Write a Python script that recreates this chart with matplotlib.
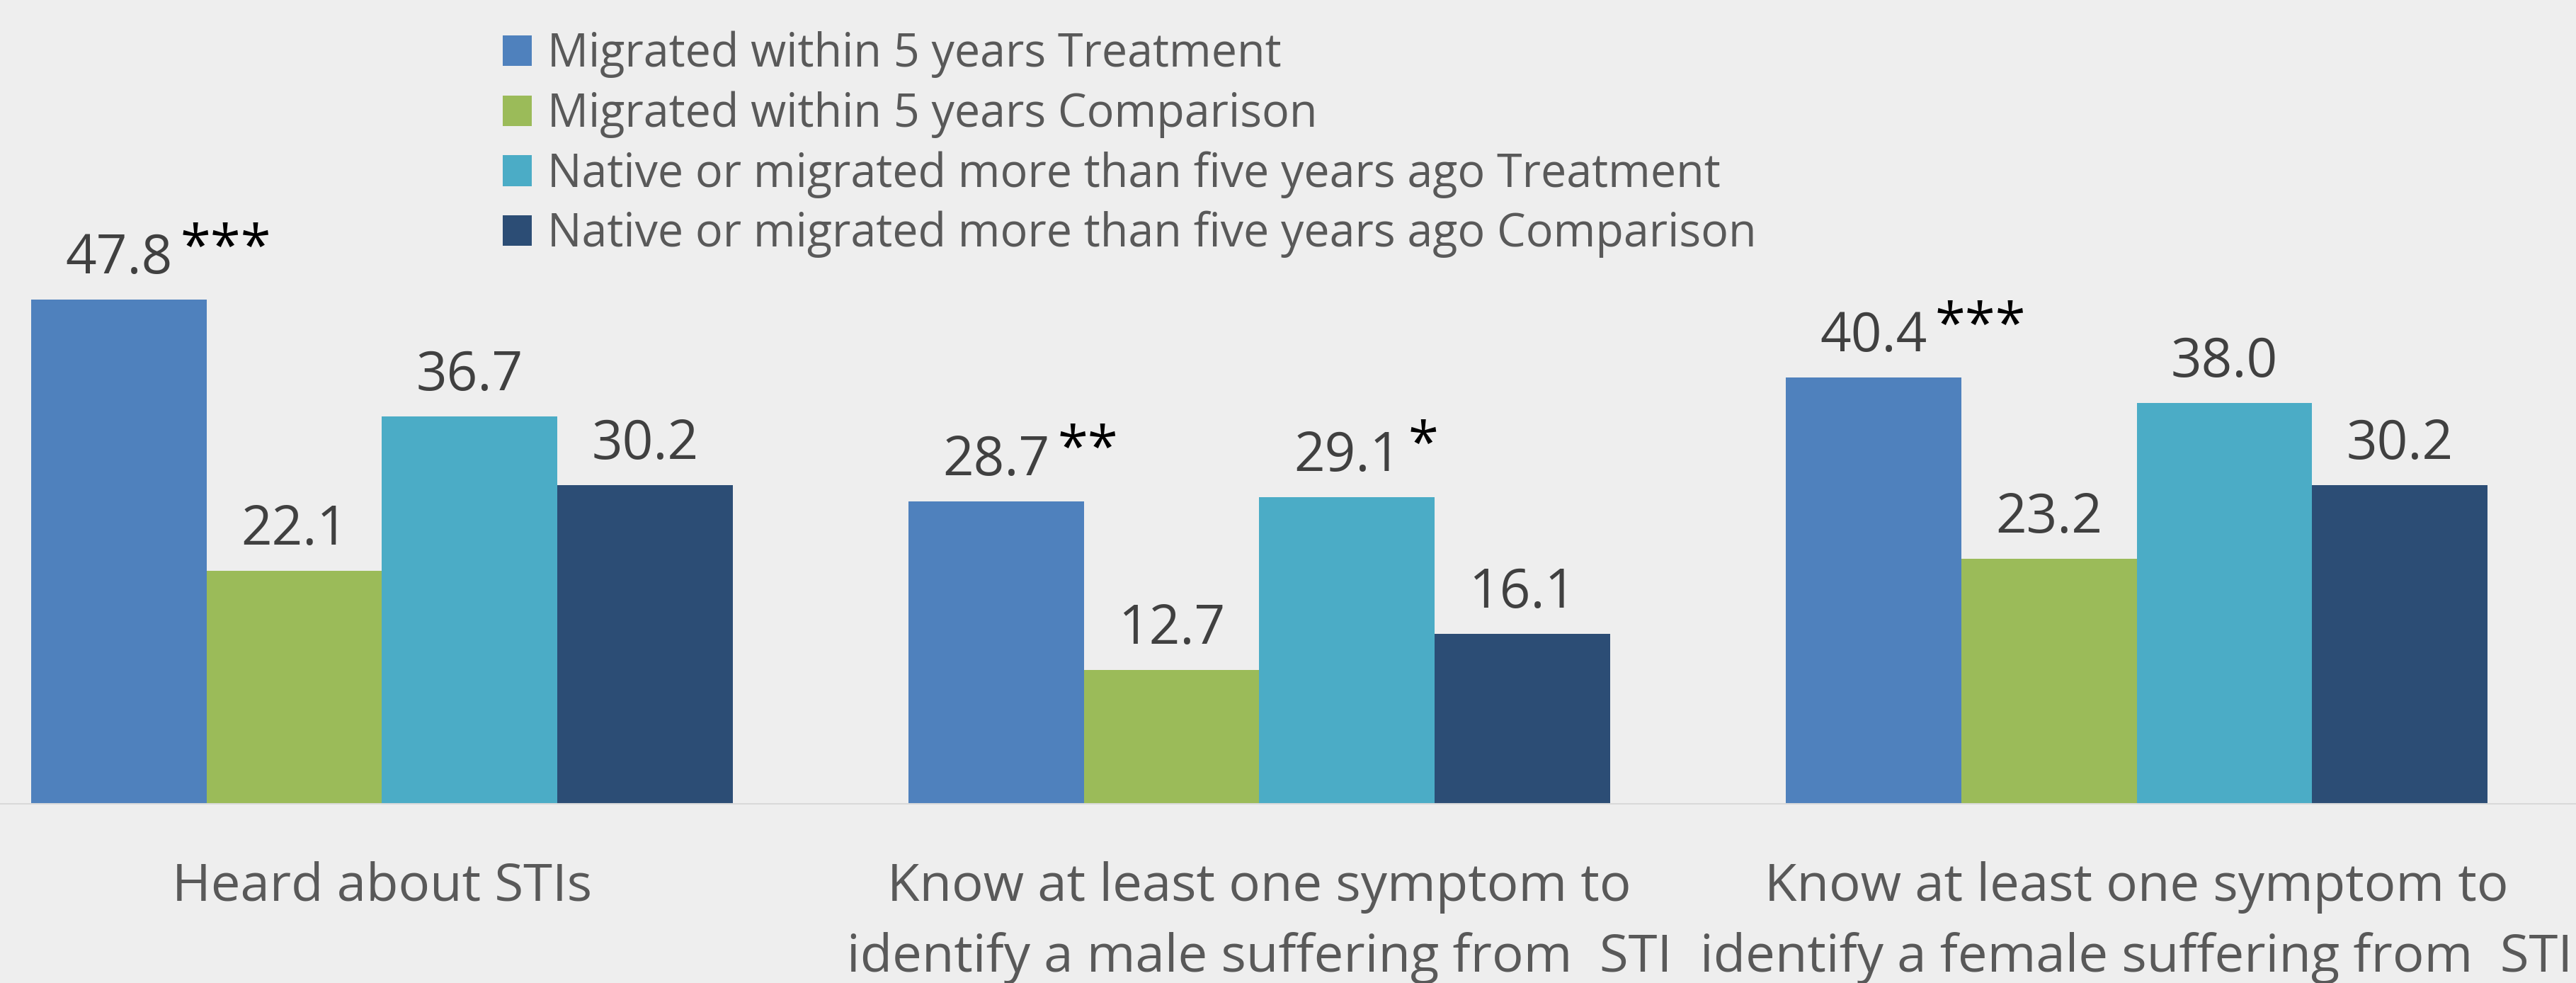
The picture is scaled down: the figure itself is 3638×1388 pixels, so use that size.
import matplotlib
matplotlib.use('Agg')
import matplotlib.pyplot as plt
import numpy as np

plt.rcParams['font.family'] = ['Open Sans', 'DejaVu Sans']

categories = ['Heard about STIs',
              'Know at least one symptom to\nidentify a male suffering from  STI',
              'Know at least one symptom to\nidentify a female suffering from  STI']
series_names = ['Migrated within 5 years Treatment',
                'Migrated within 5 years Comparison',
                'Native or migrated more than five years ago Treatment',
                'Native or migrated more than five years ago Comparison']
mig_treat = [47.8, 28.7, 40.4]
mig_comp = [22.1, 12.7, 23.2]
native_treat = [36.7, 29.1, 38.0]
native_comp = [30.2, 16.1, 30.2]
mig_treat_stars = ['***', '**', '***']
native_treat_stars = ['', '*', '']

colors = ['#4F81BD', '#9BBB59', '#4BACC6', '#2C4D75']
bg = '#EEEEEE'

fig = plt.figure(figsize=(36.38, 13.88), dpi=100, facecolor=bg)
ax = fig.add_axes([0, 1 - 1135/1388, 1, 1135/1388])
ax.set_facecolor(bg)

x = np.arange(len(categories))
w = 0.2
all_series = [mig_treat, mig_comp, native_treat, native_comp]
all_stars = [mig_treat_stars, None, native_treat_stars, None]
for j, vals in enumerate(all_series):
    pos = x + (j - 1.5) * w
    ax.bar(pos, vals, width=w, color=colors[j], label=series_names[j])
    for i, v in enumerate(vals):
        num = ax.annotate('%.1f' % v, (pos[i], v), xytext=(0, 26.6), textcoords='offset points',
                          ha='center', va='baseline', fontsize=55, color='#404040')
        if all_stars[j] is not None and all_stars[j][i]:
            # stars hang off the top-right corner of the number
            ax.annotate(all_stars[j][i], (1, 1), xycoords=num, xytext=(8, 10), textcoords='offset points',
                        ha='left', va='top', fontsize=56, color='black')

ax.set_xlim(-0.4354, 2.5008)
ax.set_ylim(0, 76.2)
ax.set_xticks(x)
ax.set_xticklabels(categories, fontsize=53.5, color='#595959', linespacing=1.47)
ax.tick_params(axis='x', length=0, pad=58)
ax.set_yticks([])
for s in ['top', 'right', 'left']:
    ax.spines[s].set_visible(False)
ax.spines['bottom'].set_color('#D9D9D9')
ax.spines['bottom'].set_linewidth(1.5)

leg = ax.legend(loc='upper left', bbox_to_anchor=(710/3638, 1 - 44/1388), bbox_transform=fig.transFigure,
                frameon=False, fontsize=46.5, handlelength=0.63, handleheight=0.65,
                handletextpad=0.35, labelspacing=0.28, borderpad=0, borderaxespad=0)
for t in leg.get_texts():
    t.set_color('#595959')

fig.savefig('out.png', dpi=100, facecolor=bg)
